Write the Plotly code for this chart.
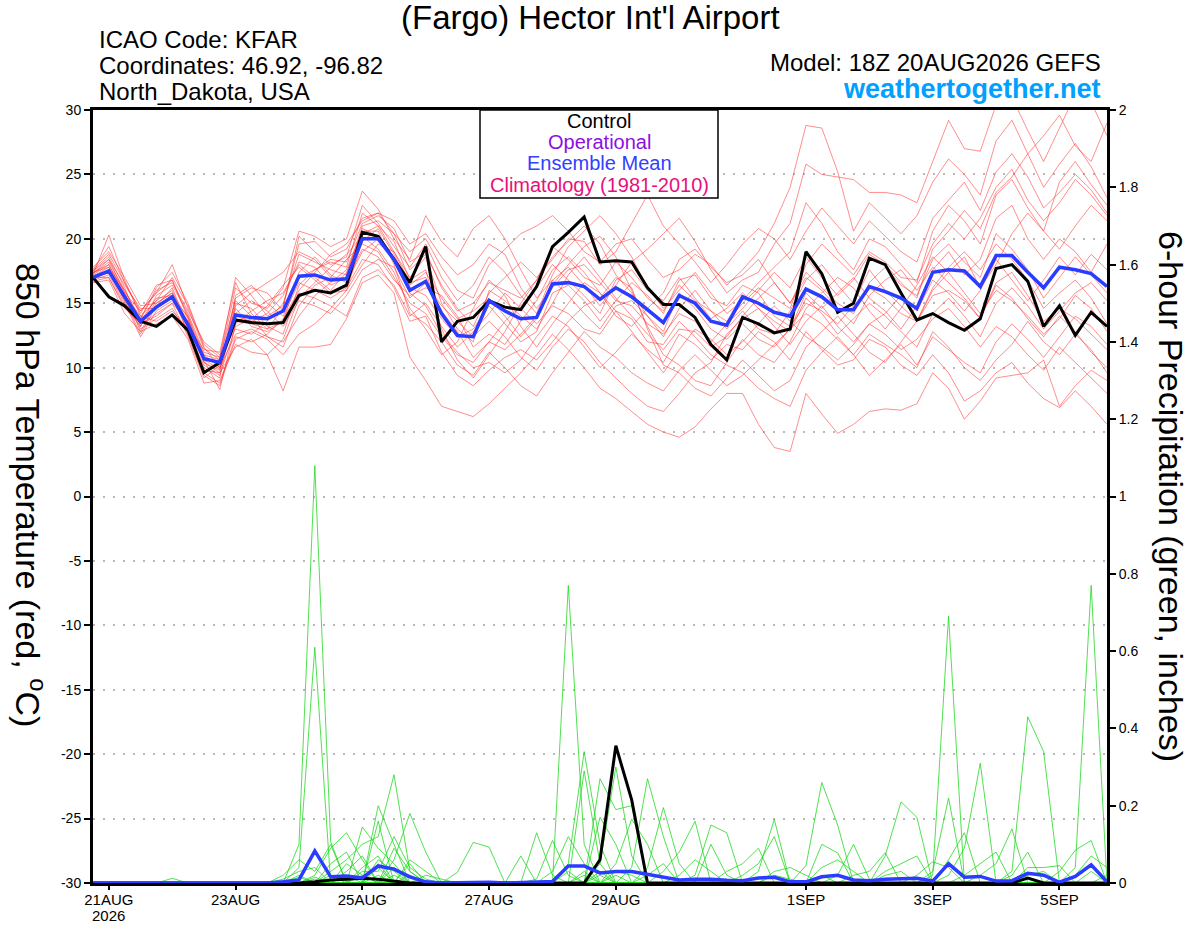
import plotly.graph_objects as go
import pandas as pd

# 6-hourly GEFS run, 18Z 20AUG2026 out to 18Z 5SEP
times = pd.date_range("2026-08-20 18:00", periods=65, freq="6h")

# 850 hPa temperature (C): control and ensemble mean
t_ctrl = [17.0, 15.5, 14.8, 13.6, 13.2, 14.1, 12.9, 9.6, 10.4,
          13.7, 13.5, 13.4, 13.5, 15.6, 16.0, 15.8, 16.4,
          20.5, 20.2, 18.4, 16.6, 19.4, 12.0, 13.6, 13.9,
          15.2, 14.7, 14.5, 16.3, 19.4, 20.5, 21.7, 18.2, 18.3, 18.2, 16.2, 14.9, 14.9, 13.9, 11.8, 10.6,
          13.9, 13.4, 12.7, 13.0, 19.0, 17.3, 14.3, 15.0, 18.5, 18.0, 15.8, 13.7, 14.2, 13.5, 12.9, 13.8,
          17.7, 18.0, 16.7, 13.2, 14.8, 12.5, 14.3, 13.2]
t_mean = [17.0, 17.5, 15.5, 13.6, 14.7, 15.5, 13.3, 10.7, 10.4,
          14.1, 13.9, 13.8, 14.4, 17.1, 17.2, 16.8, 16.9,
          20.0, 20.0, 18.4, 16.0, 16.7, 14.2, 12.5, 12.4,
          15.2, 14.4, 13.8, 13.9, 16.5, 16.6, 16.3, 15.3, 16.2, 15.5, 14.5, 13.5, 15.6, 15.0, 13.6, 13.3,
          15.5, 15.0, 14.3, 14.0, 16.1, 15.5, 14.5, 14.5, 16.3, 15.9, 15.4, 14.6, 17.4, 17.6, 17.5, 16.3,
          18.7, 18.7, 17.4, 16.2, 17.8, 17.6, 17.3, 16.3]

# 850 hPa temperature, perturbed members
t_m01 = [17.2, 20.3, 16.8, 14.0, 15.2, 16.0, 13.0, 10.0, 9.2, 15.0, 14.6, 13.2, 12.6, 16.4, 17.6, 18.2, 17.8, 22.0, 21.0, 19.0, 17.0, 18.6, 15.0, 13.0, 12.0, 16.0, 15.2, 14.0, 13.0, 15.0, 17.2, 18.6, 17.0, 15.4, 14.0, 12.6, 11.4, 13.0, 12.8, 11.6, 12.4, 14.0, 15.4, 16.6, 15.0, 17.4, 16.2, 15.0, 14.2, 16.6, 17.8, 16.4, 15.6, 18.4, 19.6, 18.2, 17.0, 20.4, 19.2, 17.6, 15.4, 17.0, 18.6, 17.2, 15.8]
t_m02 = [17.5, 18.6, 16.2, 13.2, 15.6, 16.4, 14.2, 11.2, 10.8, 17.0, 15.6, 14.0, 14.8, 19.6, 19.8, 18.6, 19.2, 21.6, 22.0, 20.4, 19.0, 20.0, 17.8, 16.0, 15.4, 18.0, 19.2, 20.4, 21.0, 21.8, 20.6, 19.0, 18.2, 19.6, 20.0, 18.4, 17.0, 17.6, 18.8, 18.0, 16.4, 17.6, 19.0, 21.2, 24.0, 28.8, 28.6, 25.2, 20.6, 22.8, 21.6, 20.4, 21.8, 24.4, 26.2, 25.0, 23.4, 27.6, 29.2, 26.6, 24.0, 25.8, 27.4, 25.6, 23.2]
t_m03 = [16.8, 17.2, 15.0, 12.4, 14.4, 15.2, 13.6, 11.0, 10.0, 12.6, 13.0, 12.4, 11.6, 14.8, 16.4, 17.0, 18.4, 19.6, 19.0, 17.0, 15.0, 14.2, 12.4, 11.0, 10.4, 12.0, 11.4, 12.6, 14.0, 16.4, 18.0, 19.4, 20.2, 18.6, 16.0, 13.2, 11.0, 10.2, 9.0, 8.6, 10.4, 12.2, 11.0, 10.4, 12.0, 14.6, 15.8, 17.0, 16.2, 14.4, 13.0, 14.6, 16.4, 18.6, 17.4, 15.8, 14.2, 16.0, 15.2, 14.0, 12.6, 13.8, 15.6, 14.6, 12.8]
t_m04 = [17.4, 18.0, 15.8, 14.4, 15.8, 18.0, 14.6, 11.5, 10.6, 16.2, 15.0, 14.6, 16.2, 20.6, 20.2, 19.4, 20.0, 23.7, 22.3, 20.0, 18.4, 21.8, 19.8, 18.6, 20.8, 21.8, 20.0, 17.6, 15.4, 16.8, 17.8, 16.4, 14.8, 16.4, 18.2, 19.2, 20.4, 21.6, 19.8, 17.6, 15.8, 16.8, 17.4, 19.6, 21.2, 25.8, 25.0, 24.8, 24.6, 23.6, 23.6, 23.4, 22.8, 26.0, 29.2, 27.0, 26.8, 30.4, 31.0, 28.4, 26.0, 28.6, 31.2, 30.6, 28.0]
t_m05 = [16.9, 17.6, 15.4, 13.0, 13.8, 14.6, 12.6, 9.8, 9.6, 11.6, 12.2, 11.0, 8.2, 11.6, 11.6, 11.8, 13.8, 16.6, 17.2, 15.8, 10.8, 9.0, 7.0, 6.6, 6.2, 7.2, 8.4, 9.6, 11.0, 12.6, 11.4, 10.0, 8.4, 7.6, 6.6, 5.6, 5.0, 4.6, 5.4, 6.8, 8.0, 8.0, 5.6, 3.8, 3.5, 8.0, 6.4, 4.9, 5.6, 6.6, 6.8, 6.7, 7.2, 9.6, 8.4, 6.0, 7.4, 9.2, 9.4, 9.6, 10.6, 7.0, 8.6, 9.8, 9.0]
t_m06 = [17.6, 18.8, 16.6, 14.2, 16.4, 16.8, 14.0, 10.6, 8.3, 13.4, 14.4, 15.2, 15.8, 18.0, 17.0, 16.0, 17.4, 20.4, 21.0, 19.8, 16.8, 17.6, 13.0, 10.6, 9.2, 11.0, 12.8, 15.0, 16.8, 18.6, 19.8, 21.0, 19.6, 17.2, 15.8, 14.0, 12.4, 14.6, 16.0, 14.4, 13.0, 14.4, 13.0, 12.6, 14.4, 16.8, 18.0, 16.4, 15.0, 17.6, 16.0, 14.8, 13.6, 16.2, 17.8, 19.0, 17.6, 19.6, 18.4, 16.8, 14.6, 15.8, 16.8, 15.4, 13.4]
t_m07 = [17.0, 17.0, 14.6, 13.4, 14.2, 15.0, 12.4, 9.2, 10.2, 14.6, 13.2, 12.8, 13.6, 17.4, 18.6, 17.2, 16.6, 19.0, 20.0, 18.6, 16.2, 15.6, 13.8, 12.4, 13.0, 14.8, 13.4, 12.0, 12.8, 15.8, 16.4, 15.2, 13.6, 15.2, 16.6, 15.6, 14.2, 16.8, 17.2, 15.4, 14.8, 16.4, 15.8, 14.0, 13.2, 15.0, 14.4, 13.4, 14.8, 16.2, 15.4, 14.2, 13.6, 15.6, 16.0, 15.2, 13.8, 16.6, 17.4, 15.6, 13.6, 14.6, 13.8, 12.6, 11.4]
t_m08 = [17.8, 19.0, 17.0, 14.8, 15.0, 15.8, 13.8, 10.4, 9.8, 15.6, 16.4, 15.0, 14.0, 16.6, 16.0, 15.4, 16.2, 18.4, 18.0, 16.2, 13.6, 14.0, 11.2, 9.4, 8.6, 9.8, 10.8, 11.4, 10.6, 12.0, 13.6, 14.8, 15.4, 17.0, 16.2, 13.0, 10.2, 9.6, 8.4, 7.8, 9.2, 10.6, 9.4, 8.2, 9.0, 11.6, 12.8, 14.0, 12.6, 11.2, 10.4, 12.0, 13.6, 16.0, 17.4, 18.6, 16.2, 18.0, 20.4, 22.0, 20.6, 19.2, 21.0, 22.6, 21.4]
t_m09 = [17.1, 17.8, 15.6, 13.8, 16.0, 16.6, 14.4, 12.0, 11.0, 13.0, 12.6, 13.6, 15.0, 18.8, 18.2, 17.6, 17.2, 21.0, 21.4, 20.4, 17.6, 18.8, 16.4, 14.6, 13.2, 15.8, 17.0, 18.2, 17.0, 18.4, 20.0, 19.8, 18.0, 19.0, 21.2, 23.4, 21.0, 19.6, 18.2, 16.6, 18.0, 19.6, 20.8, 20.0, 18.4, 20.6, 22.4, 21.0, 19.6, 21.4, 20.2, 19.0, 18.2, 21.6, 23.0, 24.4, 22.2, 25.2, 26.6, 24.8, 22.4, 23.6, 25.0, 23.8, 22.0]
t_m10 = [16.6, 16.8, 14.2, 12.8, 13.4, 14.0, 12.2, 8.8, 9.0, 11.8, 11.2, 11.0, 12.2, 15.4, 16.6, 17.8, 18.8, 20.2, 19.2, 17.4, 14.6, 13.0, 11.0, 12.0, 14.6, 16.8, 15.6, 13.2, 11.6, 13.4, 15.0, 16.6, 15.8, 14.4, 12.8, 11.2, 9.6, 11.4, 13.0, 12.2, 11.0, 12.0, 13.4, 14.8, 13.6, 12.4, 11.6, 10.6, 11.8, 13.4, 12.6, 11.4, 12.2, 13.8, 14.6, 13.2, 11.6, 13.2, 12.4, 11.0, 9.8, 11.6, 10.4, 9.2, 8.0]
t_m11 = [17.3, 18.2, 16.0, 13.6, 15.4, 15.6, 13.4, 10.8, 10.4, 14.2, 15.2, 14.4, 13.2, 15.2, 14.8, 14.2, 15.6, 17.6, 18.4, 17.8, 15.4, 16.6, 14.8, 13.6, 12.4, 13.6, 12.4, 10.8, 9.8, 11.6, 13.0, 12.0, 10.4, 9.2, 8.0, 7.0, 6.6, 8.0, 9.6, 10.4, 12.6, 13.8, 14.6, 13.2, 11.8, 13.6, 14.8, 13.2, 12.0, 13.4, 14.2, 15.6, 14.4, 16.8, 15.8, 14.4, 16.0, 18.4, 16.8, 15.2, 16.8, 18.6, 17.2, 18.8, 17.6]
t_m12 = [17.0, 17.4, 15.2, 12.6, 14.8, 16.2, 13.2, 11.4, 11.2, 16.6, 14.2, 13.0, 14.6, 20.2, 19.0, 18.0, 18.6, 22.6, 21.2, 19.4, 17.8, 19.6, 17.0, 15.2, 16.4, 18.6, 17.4, 15.6, 14.2, 17.2, 19.4, 20.6, 21.8, 20.4, 18.6, 16.2, 14.6, 16.0, 17.4, 15.8, 14.2, 15.2, 16.6, 17.8, 19.0, 22.8, 21.2, 19.0, 17.6, 20.0, 19.4, 18.0, 16.6, 20.6, 22.6, 21.4, 19.6, 23.4, 24.6, 22.4, 20.6, 24.4, 26.0, 24.2, 22.6]
t_m13 = [17.5, 18.4, 16.4, 14.6, 14.6, 15.4, 12.8, 10.2, 9.4, 13.2, 13.8, 14.8, 16.4, 17.8, 16.8, 15.8, 16.0, 18.0, 19.6, 19.0, 16.6, 17.0, 14.4, 12.8, 10.8, 12.0, 13.6, 14.8, 16.2, 18.0, 16.8, 15.6, 14.2, 16.8, 17.6, 16.0, 15.2, 17.0, 15.4, 13.8, 14.6, 15.8, 14.6, 13.6, 12.8, 15.4, 14.2, 12.6, 13.8, 15.0, 14.0, 12.8, 11.6, 14.2, 15.4, 14.0, 12.4, 15.0, 16.2, 14.8, 13.0, 14.4, 15.8, 16.6, 15.2]
t_m14 = [16.7, 17.0, 14.8, 13.2, 15.2, 17.0, 14.8, 11.8, 10.8, 15.2, 14.0, 12.4, 12.0, 14.0, 15.6, 16.6, 17.6, 20.6, 20.6, 18.0, 14.2, 13.4, 12.0, 10.2, 9.4, 11.2, 10.0, 8.6, 7.8, 9.6, 11.2, 12.8, 11.6, 10.8, 9.6, 8.8, 8.2, 9.8, 11.0, 9.8, 8.6, 9.4, 10.6, 11.8, 13.0, 15.8, 14.6, 15.8, 17.0, 15.4, 14.4, 13.0, 14.8, 17.6, 19.0, 17.2, 18.4, 21.6, 22.6, 20.0, 18.4, 20.0, 19.0, 17.4, 19.6]
t_m15 = [17.2, 18.0, 15.6, 14.0, 13.6, 14.4, 13.0, 9.6, 8.8, 12.4, 12.0, 12.6, 13.8, 16.0, 17.4, 18.8, 19.6, 21.4, 22.0, 21.4, 19.6, 20.4, 18.6, 17.2, 18.0, 19.6, 18.8, 16.2, 14.6, 16.2, 17.6, 18.0, 16.6, 15.2, 14.8, 13.4, 12.6, 14.2, 13.6, 12.0, 13.4, 14.6, 16.0, 17.4, 16.2, 18.6, 17.0, 15.6, 16.8, 18.8, 18.0, 16.6, 15.4, 19.2, 20.6, 22.2, 20.8, 23.6, 24.8, 26.6, 28.0, 29.6, 27.2, 26.0, 29.0]
t_m16 = [17.4, 17.8, 16.0, 13.8, 16.2, 17.4, 15.0, 11.6, 10.0, 14.8, 15.8, 16.6, 17.4, 19.0, 18.4, 17.0, 16.8, 19.2, 18.6, 16.8, 15.6, 16.2, 15.6, 14.0, 11.6, 12.6, 11.8, 13.6, 15.2, 17.6, 18.6, 17.4, 15.8, 14.0, 13.2, 14.6, 15.8, 18.4, 19.2, 17.8, 16.6, 17.2, 18.4, 16.6, 15.0, 17.0, 16.0, 14.6, 13.4, 15.6, 16.8, 17.6, 16.0, 17.8, 16.6, 15.4, 13.8, 16.4, 15.4, 13.8, 12.4, 14.0, 12.8, 11.2, 10.0]
t_m17 = [16.9, 17.4, 15.2, 13.4, 14.0, 15.0, 13.6, 10.6, 9.9, 13.6, 13.4, 13.0, 13.6, 15.8, 15.4, 14.8, 14.0, 17.0, 17.6, 16.4, 14.0, 15.0, 13.2, 11.6, 12.8, 14.2, 15.8, 14.6, 13.4, 14.8, 14.2, 13.0, 12.6, 14.4, 13.8, 12.0, 11.8, 13.6, 12.4, 11.0, 10.2, 9.6, 8.4, 7.6, 7.0, 9.8, 11.2, 12.4, 11.0, 9.4, 10.6, 11.8, 10.2, 12.4, 11.4, 10.4, 9.6, 12.0, 13.4, 12.2, 10.8, 12.4, 14.0, 13.2, 11.8]
t_m18 = [17.3, 18.4, 15.8, 12.8, 15.0, 15.8, 12.6, 9.4, 8.6, 12.2, 12.8, 12.2, 11.0, 12.6, 13.4, 14.6, 16.0, 19.8, 20.8, 18.8, 16.4, 17.4, 15.4, 13.8, 14.4, 15.4, 14.0, 12.4, 13.8, 16.8, 15.6, 14.2, 13.0, 14.8, 15.2, 14.0, 12.8, 15.8, 14.6, 13.0, 12.2, 13.4, 12.2, 11.6, 13.0, 14.2, 13.4, 12.2, 11.0, 12.6, 11.8, 11.0, 10.0, 12.8, 11.6, 10.0, 9.0, 10.6, 11.8, 13.6, 12.0, 11.0, 12.6, 11.4, 9.6]
t_m19 = [17.0, 17.6, 15.4, 13.6, 14.6, 15.4, 14.0, 11.0, 10.6, 14.0, 13.6, 14.2, 15.6, 18.2, 17.8, 16.4, 17.0, 20.8, 20.2, 18.2, 15.8, 14.8, 12.6, 11.2, 10.0, 10.4, 9.6, 10.6, 12.4, 14.0, 13.2, 11.6, 10.0, 11.2, 12.6, 11.4, 10.4, 12.6, 11.8, 10.6, 11.8, 11.4, 12.8, 12.0, 10.6, 12.8, 11.4, 10.2, 10.6, 12.2, 11.6, 10.2, 9.4, 11.0, 9.6, 7.4, 8.2, 9.6, 10.4, 8.8, 7.6, 6.9, 8.2, 7.0, 5.6]
t_m20 = [17.6, 19.4, 16.6, 14.4, 15.8, 16.8, 13.8, 10.4, 9.6, 15.4, 16.2, 15.8, 14.4, 17.0, 17.6, 18.4, 18.2, 21.2, 21.8, 20.8, 18.2, 19.0, 16.2, 14.4, 15.0, 16.6, 16.0, 15.4, 16.8, 19.4, 18.4, 17.0, 16.4, 18.2, 17.0, 15.4, 14.4, 16.4, 15.2, 14.4, 13.6, 15.0, 16.2, 15.4, 14.6, 18.0, 19.6, 18.4, 17.2, 19.0, 18.2, 17.0, 16.8, 19.6, 21.2, 20.0, 21.6, 24.0, 25.4, 23.0, 21.4, 22.8, 24.6, 23.4, 21.8]

# 6-hour precipitation (inches): control and ensemble mean
p_ctrl = [0, 0, 0, 0, 0, 0, 0, 0, 0, 0, 0, 0, 0,
          0, 0.003, 0.008, 0.01, 0.012, 0.01, 0.005, 0, 0, 0, 0, 0, 0,
          0, 0, 0, 0, 0, 0, 0.06, 0.355, 0.215, 0, 0, 0, 0,
          0, 0, 0, 0, 0, 0, 0, 0, 0, 0, 0, 0, 0,
          0, 0, 0, 0, 0, 0, 0, 0.013, 0, 0, 0, 0, 0]
p_mean = [0, 0, 0, 0, 0, 0, 0, 0, 0, 0, 0, 0, 0.003,
          0.008, 0.083, 0.016, 0.018, 0.013, 0.044, 0.036, 0.016, 0.003, 0, 0.001, 0.003, 0.002,
          0, 0.002, 0.003, 0.004, 0.044, 0.044, 0.026, 0.03, 0.03, 0.023, 0.014, 0.008, 0.01,
          0.01, 0.007, 0.006, 0.013, 0.015, 0.003, 0.003, 0.016, 0.02, 0.008, 0.006, 0.01, 0.012,
          0.012, 0.005, 0.05, 0.015, 0.017, 0.005, 0.006, 0.025, 0.02, 0.002, 0.017, 0.047, 0.003]

# 6-hour precipitation, perturbed members
p_m01 = [0,0,0,0,0,0,0,0,0,0,0,0,0, 0.10,1.08,0.107,0,0,0,0,0,0,0,0,0,0, 0,0,0,0,0,0.02,0,0,0,0,0,0,0, 0,0,0,0,0,0,0.045,0.26,0.15,0,0,0,0, 0,0,0,0,0,0,0,0.02,0.03,0,0,0,0]
p_m02 = [0,0,0,0,0,0,0,0,0,0,0,0,0, 0.04,0.61,0,0,0,0,0,0,0,0,0,0,0, 0,0,0,0,0,0.03,0,0,0,0,0,0,0, 0,0,0.02,0.05,0.12,0,0,0,0,0,0,0,0, 0,0,0,0,0,0,0,0,0,0.03,0.085,0.11,0]
p_m03 = [0,0,0,0,0,0,0,0,0,0,0,0,0.01, 0.03,0.04,0,0,0,0.2,0.1,0,0,0,0,0,0, 0,0,0,0,0,0,0.03,0,0,0,0,0,0, 0,0,0,0,0.02,0.01,0,0.1,0.078,0,0,0,0, 0,0,0,0,0,0,0,0,0,0,0.04,0.77,0]
p_m04 = [0,0,0,0,0,0,0,0,0,0,0,0,0, 0,0.02,0.09,0.13,0.06,0,0,0,0,0,0,0,0, 0,0,0,0,0,0,0.05,0.3,0.07,0,0,0,0, 0,0,0,0,0,0,0,0.04,0.06,0.03,0,0,0, 0,0,0,0,0,0,0,0,0,0,0.02,0.07,0.04]
p_m05 = [0,0,0,0,0,0,0,0,0,0,0,0,0, 0.02,0,0.05,0.08,0,0.16,0,0,0,0,0,0,0, 0,0,0,0,0,0,0.02,0,0.04,0.27,0.12,0,0, 0,0,0,0,0,0,0,0.02,0,0,0,0,0, 0,0,0,0,0,0,0,0,0,0,0,0.03,0]
p_m06 = [0,0,0,0,0,0,0,0,0,0,0,0,0, 0,0,0.03,0.06,0.1,0.12,0.28,0.03,0,0,0,0,0, 0,0,0,0,0,0,0,0.02,0,0,0,0,0, 0,0,0,0,0,0,0,0,0.02,0.1,0.01,0,0, 0,0,0,0,0,0,0,0,0,0,0,0,0.02]
p_m07 = [0,0,0,0,0,0.012,0,0,0,0,0,0,0, 0,0,0,0.05,0.02,0,0.06,0.18,0.08,0,0,0,0, 0,0,0,0,0,0,0,0,0,0,0,0,0, 0,0,0,0,0,0,0,0,0,0.02,0.03,0.078,0, 0,0,0,0,0,0,0,0,0,0,0,0,0]
p_m08 = [0,0,0,0,0,0,0,0,0,0,0,0,0, 0,0,0,0,0.145,0.09,0.05,0,0,0,0,0,0, 0,0,0,0,0,0,0,0.03,0.02,0,0,0,0, 0,0,0,0,0,0,0,0,0,0,0,0.07,0.21, 0.17,0,0,0,0,0,0,0,0,0,0,0,0]
p_m09 = [0,0,0,0,0,0,0,0,0,0,0,0,0.02, 0.06,0.03,0.1,0,0,0.05,0,0.05,0,0,0,0,0, 0,0,0,0,0,0,0,0,0,0.04,0.195,0.05,0, 0,0,0,0,0,0,0,0,0,0,0,0.03,0.05, 0.07,0,0,0,0,0,0,0,0,0,0,0,0]
p_m10 = [0,0,0,0,0,0,0,0,0,0,0,0,0, 0,0.015,0,0.03,0.07,0,0.09,0.03,0,0,0,0,0, 0,0,0,0,0,0,0,0,0,0,0.03,0.08,0.16, 0,0,0,0,0,0,0,0,0,0,0,0.02,0.03, 0,0,0,0,0,0,0,0,0,0,0,0,0]
p_m11 = [0,0,0,0,0,0,0,0,0,0,0,0,0.005, 0,0,0,0,0.04,0.07,0,0,0.02,0.01,0,0,0, 0,0,0,0,0,0,0.27,0.19,0.2,0,0,0,0, 0,0,0,0,0,0,0,0,0,0,0,0,0, 0.02,0.055,0.04,0,0,0,0,0,0,0,0,0,0]
p_m12 = [0,0,0,0,0,0,0,0,0,0,0,0,0, 0.015,0,0,0,0.03,0.03,0.12,0.04,0.01,0,0,0,0, 0,0,0,0,0,0,0.17,0.1,0,0,0,0,0, 0,0,0,0,0,0,0,0,0,0,0,0,0, 0,0.02,0.69,0,0,0,0,0,0,0,0,0,0]
p_m13 = [0,0,0,0,0,0,0,0,0,0,0,0,0, 0,0.01,0,0,0,0.06,0.03,0,0,0,0.028,0.105,0.093, 0,0,0,0,0,0,0,0.05,0.165,0.1,0,0,0, 0,0,0,0,0,0,0,0,0,0,0,0,0, 0,0.03,0.22,0,0,0,0,0,0,0,0,0,0]
p_m14 = [0,0,0,0,0,0,0,0,0,0,0,0,0, 0,0,0.02,0,0,0,0.04,0,0,0,0,0,0, 0,0.07,0,0,0.03,0,0,0,0,0.02,0.05,0,0, 0,0,0,0,0,0,0,0,0,0,0,0,0, 0,0,0.06,0.13,0,0,0,0,0,0,0,0,0]
p_m15 = [0,0,0,0,0,0,0,0,0,0,0,0,0, 0,0,0,0.02,0,0,0,0.06,0.03,0,0,0,0, 0,0,0.13,0.02,0,0,0,0,0,0,0,0.02,0.06, 0.03,0,0,0,0,0,0,0,0,0,0,0,0, 0,0,0.02,0.09,0.31,0,0,0,0,0,0,0,0]
p_m16 = [0,0,0,0,0,0,0,0,0,0,0,0,0, 0,0,0,0,0.02,0,0,0.02,0,0,0,0,0, 0,0,0.01,0.11,0.02,0,0,0,0,0,0,0,0.02, 0.15,0.13,0,0,0,0,0,0,0,0,0,0,0, 0,0,0,0.02,0.05,0.08,0,0,0,0,0,0,0]
p_m17 = [0,0,0,0,0,0,0,0,0,0,0,0,0, 0,0,0,0,0,0.04,0,0,0,0,0,0,0, 0,0,0,0.03,0.12,0.05,0,0,0,0,0,0,0, 0.1,0.02,0,0,0,0,0,0,0,0,0,0,0, 0,0,0,0,0.02,0.05,0.14,0,0,0,0,0,0]
p_m18 = [0,0,0,0,0,0,0,0,0,0,0,0,0, 0,0,0,0,0,0.02,0,0,0,0,0,0,0, 0,0,0,0,0.77,0.1,0,0,0,0,0,0,0, 0,0.03,0.05,0.09,0,0,0,0,0,0,0,0,0, 0,0,0,0,0,0,0.03,0.43,0.34,0,0,0,0]
p_m19 = [0,0,0,0,0,0,0,0,0,0,0,0,0, 0,0,0,0,0,0,0.02,0,0,0,0,0,0, 0,0,0,0,0.05,0.34,0.1,0,0,0,0,0,0, 0,0,0,0.03,0.165,0,0,0,0,0,0,0,0, 0,0,0,0,0,0,0.02,0.08,0,0,0,0,0]
p_m20 = [0,0,0,0,0,0,0,0,0,0,0,0,0, 0,0,0,0,0,0,0,0,0,0,0,0,0, 0,0,0,0,0,0.29,0.05,0,0,0,0,0,0, 0,0,0,0,0.03,0.04,0.02,0,0,0,0,0,0, 0,0,0,0,0,0,0,0.04,0.04,0.045,0,0,0]

temp_members = [t_m01, t_m02, t_m03, t_m04, t_m05, t_m06, t_m07, t_m08, t_m09, t_m10,
                t_m11, t_m12, t_m13, t_m14, t_m15, t_m16, t_m17, t_m18, t_m19, t_m20]
precip_members = [p_m01, p_m02, p_m03, p_m04, p_m05, p_m06, p_m07, p_m08, p_m09, p_m10,
                  p_m11, p_m12, p_m13, p_m14, p_m15, p_m16, p_m17, p_m18, p_m19, p_m20]

# axis labels
day_ticks = ["2026-08-21", "2026-08-23", "2026-08-25", "2026-08-27",
             "2026-08-29", "2026-09-01", "2026-09-03", "2026-09-05"]
day_labels = ["21AUG", "23AUG", "25AUG", "27AUG", "29AUG", "1SEP", "3SEP", "5SEP"]
year_label = "2026"
temp_ticks = [-30, -25, -20, -15, -10, -5, 0, 5, 10, 15, 20, 25, 30]
precip_ticks = [0, 0.2, 0.4, 0.6, 0.8, 1, 1.2, 1.4, 1.6, 1.8, 2]
precip_labels = ["0", "0.2", "0.4", "0.6", "0.8", "1", "1.2", "1.4", "1.6", "1.8", "2"]

for series in [t_ctrl, t_mean, p_ctrl, p_mean] + temp_members + precip_members:
    if len(series) != len(times):
        raise ValueError("series length %d" % len(series))

FONT = "Liberation Sans, Arial, sans-serif"

# plot frame in pixels: left 93, right 1107, top 110, bottom 883
L, R, T, B = 93, 1107, 110, 883


def px(x):
    return (x - L) / (R - L)


def py(y):
    return (B - y) / (B - T)


fig = go.Figure()

for member in temp_members:
    fig.add_trace(go.Scatter(x=times, y=member, mode="lines", yaxis="y",
                             line=dict(color="rgba(255,45,45,0.6)", width=0.9),
                             hoverinfo="skip"))

for member in precip_members:
    fig.add_trace(go.Scatter(x=times, y=member, mode="lines", yaxis="y2",
                             line=dict(color="rgba(25,215,25,0.85)", width=0.9),
                             hoverinfo="skip"))

fig.add_trace(go.Scatter(x=times, y=t_ctrl, mode="lines", yaxis="y",
                         line=dict(color="black", width=3)))
fig.add_trace(go.Scatter(x=times, y=t_mean, mode="lines", yaxis="y",
                         line=dict(color="#2a3cff", width=3.5)))
fig.add_trace(go.Scatter(x=times, y=p_ctrl, mode="lines", yaxis="y2",
                         line=dict(color="black", width=3)))
fig.add_trace(go.Scatter(x=times, y=p_mean, mode="lines", yaxis="y2",
                         line=dict(color="#2a3cff", width=3.5)))

annotations = [
    dict(text="(Fargo) Hector Int'l Airport", x=px(590), y=py(18), font=dict(size=33)),
    dict(text="ICAO Code: KFAR", x=px(97), y=py(40), xanchor="left", font=dict(size=24)),
    dict(text="Coordinates: 46.92, -96.82", x=px(97), y=py(66), xanchor="left", font=dict(size=24)),
    dict(text="North_Dakota, USA", x=px(97), y=py(92), xanchor="left", font=dict(size=24)),
    dict(text="Model: 18Z 20AUG2026 GEFS", x=px(1103), y=py(62), xanchor="right", font=dict(size=24)),
    dict(text="<b>weathertogether.net</b>", x=px(1103), y=py(89), xanchor="right",
         font=dict(size=27, color="#00a0ff")),
    dict(text="Control", x=px(599), y=py(121), font=dict(size=20, color="black")),
    dict(text="Operational", x=px(599), y=py(142), font=dict(size=20, color="#8c10e0")),
    dict(text="Ensemble Mean", x=px(599), y=py(163), font=dict(size=20, color="#3040ff")),
    dict(text="Climatology (1981-2010)", x=px(599), y=py(185), font=dict(size=20, color="#e8107c")),
    dict(text="850 hPa Temperature (red, <sup>o</sup>C)", x=px(31), y=py(495), textangle=90,
         font=dict(size=34)),
    dict(text="6-hour Precipitation (green, inches)", x=px(1171), y=py(496), textangle=90,
         font=dict(size=34)),
]
for a in annotations:
    a.update(xref="paper", yref="paper", showarrow=False)
    a.setdefault("xanchor", "center")
    a["yanchor"] = "middle"

# year under the first date label
annotations.append(dict(text=year_label, xref="x", yref="paper", x=day_ticks[0], y=py(915),
                        showarrow=False, xanchor="center", yanchor="middle",
                        font=dict(size=15)))

fig.update_layout(
    width=1200,
    height=927,
    margin=dict(l=L, r=1200 - R, t=T, b=927 - B),
    paper_bgcolor="white",
    plot_bgcolor="white",
    showlegend=False,
    font=dict(family=FONT, color="black"),
    annotations=annotations,
    shapes=[dict(type="rect", xref="paper", yref="paper",
                 x0=px(480), x1=px(718), y0=py(198), y1=1,
                 line=dict(color="black", width=1.5), fillcolor="white", layer="above")],
    xaxis=dict(
        range=[times[0], times[-1]],
        tickvals=day_ticks,
        ticktext=day_labels,
        ticks="outside", ticklen=4, tickwidth=1.5, tickcolor="black",
        ticklabelstandoff=-3,
        tickfont=dict(size=15),
        showline=True, linewidth=3, linecolor="black", mirror=True,
        showgrid=False, zeroline=False, automargin=False,
    ),
    yaxis=dict(
        range=[-30, 30],
        tickvals=temp_ticks,
        ticktext=[str(v) for v in temp_ticks],
        ticks="outside", ticklen=6, tickwidth=1.5, tickcolor="black",
        tickfont=dict(size=14),
        showline=True, linewidth=3, linecolor="black",
        showgrid=True, gridcolor="#b8b8b8", griddash="2px,8px", gridwidth=2,
        zeroline=False, automargin=False,
    ),
    yaxis2=dict(
        range=[0, 2],
        overlaying="y",
        side="right",
        tickvals=precip_ticks,
        ticktext=precip_labels,
        ticks="outside", ticklen=6, tickwidth=1.5, tickcolor="black",
        tickfont=dict(size=14),
        showline=True, linewidth=3, linecolor="black",
        showgrid=False, zeroline=False, automargin=False,
    ),
)

fig.write_html("out.html", config={"displayModeBar": False},
               post_script="document.body.style.margin='0';")
